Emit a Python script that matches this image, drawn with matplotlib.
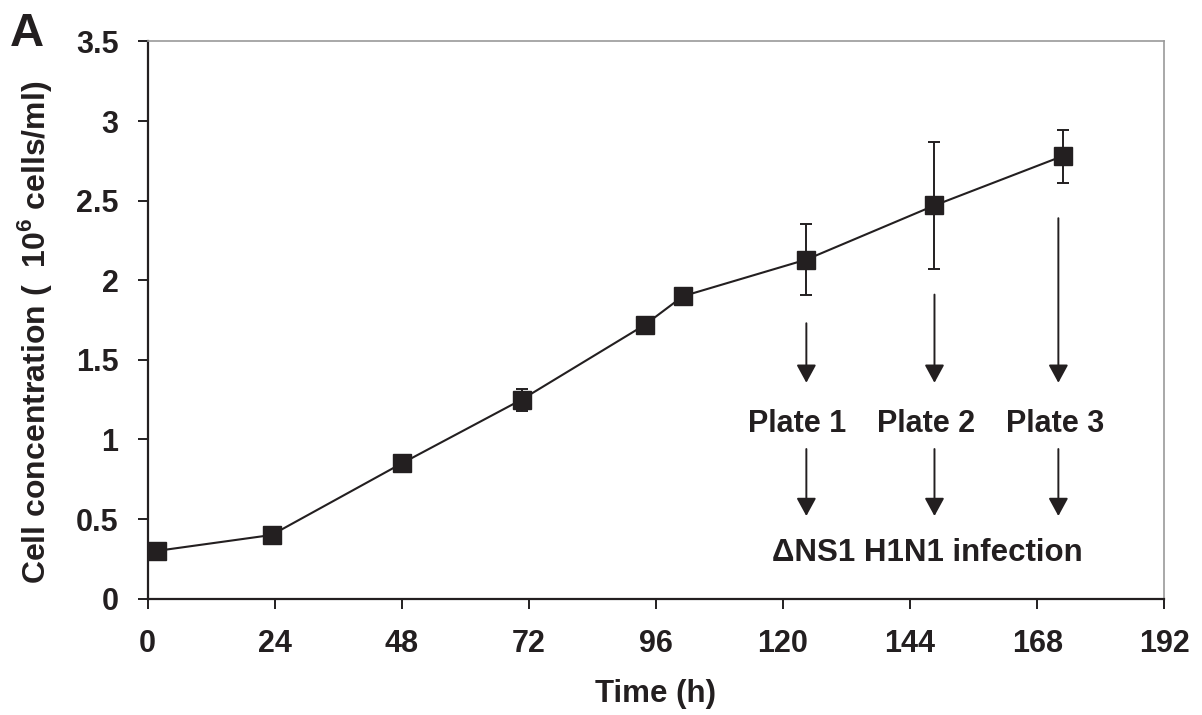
import matplotlib
matplotlib.use("Agg")
import matplotlib.pyplot as plt

plt.rcParams['font.family'] = ['Liberation Sans', 'DejaVu Sans']
plt.rcParams['mathtext.fontset'] = 'custom'
plt.rcParams['mathtext.rm'] = 'Liberation Sans'
plt.rcParams['mathtext.bf'] = 'Liberation Sans:bold'

# Data
time_h = [1.7, 23.4, 48.0, 70.6, 93.9, 101.1, 124.4, 148.6, 172.8]
conc = [0.30, 0.40, 0.85, 1.25, 1.72, 1.90, 2.13, 2.47, 2.78]
conc_err = [0.02, 0.04, 0.04, 0.07, 0.02, 0.02, 0.225, 0.40, 0.167]

xticks = [0, 24, 48, 72, 96, 120, 144, 168, 192]
yticks = [0, 0.5, 1, 1.5, 2, 2.5, 3, 3.5]
ytick_labels = ['0', '0.5', '1', '1.5', '2', '2.5', '3', '3.5']

plate_labels = ['Plate 1', 'Plate 2', 'Plate 3']
plate_label_x = [122.6, 147.1, 171.3]
arrow_x = [124.4, 148.6, 172.0]
arrow_top_start = [1.73, 1.91, 2.39]
arrow_top_end = 1.356
arrow_low_start = 0.94
arrow_low_end = 0.519
plate_label_y = 1.10
infection_label = '\u0394NS1 H1N1 infection'

ink = '#231f20'

fig = plt.figure(figsize=(12.02, 7.15), dpi=100)
ax = fig.add_axes([0.1229, 0.1627, 0.8457, 0.7793])

ax.errorbar(time_h, conc, yerr=conc_err, color=ink, marker='s', markersize=13,
            linewidth=1.5, elinewidth=1.4, capsize=4.5, capthick=1.4, zorder=3)

for x, y0, lab, lx in zip(arrow_x, arrow_top_start, plate_labels, plate_label_x):
    ax.annotate('', xy=(x, arrow_top_end), xytext=(x, y0),
                arrowprops=dict(arrowstyle='-|>,head_length=0.55,head_width=0.3',
                                color=ink, lw=1.4, mutation_scale=20, shrinkA=0, shrinkB=0))
    ax.annotate('', xy=(x, arrow_low_end), xytext=(x, arrow_low_start),
                arrowprops=dict(arrowstyle='-|>,head_length=0.55,head_width=0.3',
                                color=ink, lw=1.4, mutation_scale=20, shrinkA=0, shrinkB=0))
    ax.text(lx, plate_label_y, lab, ha='center', va='center', fontsize=22,
            fontweight='bold', color=ink)

ax.text(147.2, 0.29, infection_label, ha='center', va='center', fontsize=22.5,
        fontweight='bold', color=ink)

ax.set_xlim(0, 192)
ax.set_ylim(0, 3.5)
ax.set_xticks(xticks)
ax.set_xticklabels([str(t) for t in xticks])
ax.set_yticks(yticks)
ax.set_yticklabels(ytick_labels)

for lab in ax.get_xticklabels() + ax.get_yticklabels():
    lab.set_fontweight('bold')
    lab.set_fontsize(22)
    lab.set_color(ink)

ax.tick_params(axis='x', direction='out', length=7, width=1.4, color=ink, pad=15)
ax.tick_params(axis='y', direction='out', length=7, width=1.4, color=ink, pad=14)

for s in ['left', 'bottom']:
    ax.spines[s].set_color(ink)
    ax.spines[s].set_linewidth(1.6)
for s in ['top', 'right']:
    ax.spines[s].set_color('#9a9a9a')
    ax.spines[s].set_linewidth(1.2)

ax.set_xlabel('Time (h)', fontsize=22.5, fontweight='bold', color=ink, labelpad=14)
ax.set_ylabel('Cell concentration (  10$^{\\mathbf{6}}$ cells/ml)', fontsize=23,
              fontweight='bold', color=ink)
ax.yaxis.set_label_coords(-0.092, 0.478)

fig.text(0.008, 0.935, 'A', fontsize=34, fontweight='bold', color=ink,
         ha='left', va='baseline')

fig.savefig('out.png', dpi=100)
